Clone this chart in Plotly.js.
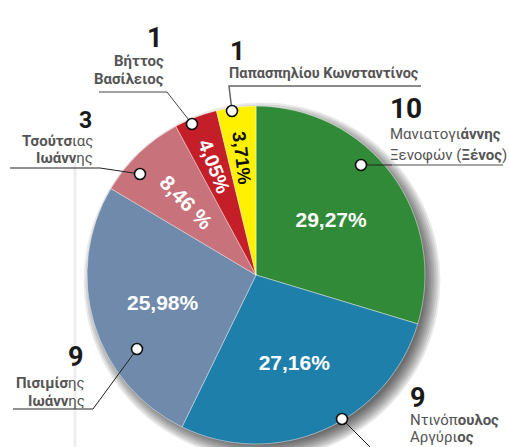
<!DOCTYPE html>
<html>
<head>
<meta charset="utf-8">
<script src="https://cdn.plot.ly/plotly-3.0.1.min.js"></script>
<style>html,body{margin:0;padding:0;background:#fff;}#chart{width:509px;height:447px;}</style>
</head>
<body>
<div id="chart"></div>
<script>
// ---- data ----
const candidates = ["Μανιατογιάννης Ξενοφών (Ξένος)", "Ντινόπουλος Αργύριος", "Πισιμίσης Ιωάννης", "Τσούτσιας Ιωάννης", "Βήττος Βασίλειος", "Παπασπηλίου Κωνσταντίνος"];
const percents = [29.27, 27.16, 25.98, 8.46, 4.05, 3.71];
const seats = [10, 9, 9, 3, 1, 1];
const pctLabels = ["29,27%", "27,16%", "25,98%", "8,46 %", "4,05%", "3,71%"];
const sliceColors = ["#318a37", "#1f7fab", "#6f8aab", "#c8737b", "#c41f28", "#fff100"];
const pctTextColors = ["#ffffff", "#ffffff", "#ffffff", "#ffffff", "#ffffff", "#111111"];
const radialSlices = [false, false, false, true, true, true];

const W = 509, H = 447;
const px = x => x / W, py = y => 1 - y / H;
const cx = 256, cy = 275, R = 169, R2 = 146;
const domainOf = r => ({x: [px(cx - r), px(cx + r)], y: [py(cy + r), py(cy - r)]});

const base = {
  type: 'pie', values: percents, labels: candidates, sort: false,
  direction: 'clockwise', rotation: 0,
  textposition: 'inside', texttemplate: '%{text}', hoverinfo: 'label+percent',
  showlegend: false
};
const mainTrace = Object.assign({}, base, {
  domain: domainOf(R),
  marker: {colors: sliceColors, line: {color: 'rgba(255,255,255,0.55)', width: 0.8}},
  text: pctLabels.map((t, i) => radialSlices[i] ? '' : t),
  insidetextorientation: 'horizontal',
  insidetextfont: {family: 'Liberation Sans, Arial, sans-serif', size: 21, color: pctTextColors, weight: 'bold'}
});
const radialTrace = Object.assign({}, base, {
  domain: domainOf(R2),
  marker: {colors: sliceColors.map(() => 'rgba(0,0,0,0)'), line: {width: 0}},
  text: pctLabels.map((t, i) => radialSlices[i] ? t : ''),
  insidetextorientation: 'radial', hoverinfo: 'skip',
  insidetextfont: {family: 'Liberation Sans, Arial, sans-serif', size: 21, color: pctTextColors, weight: 'bold'}
});

// ---- callout layout ----
const shapes = [];
// soft shadow
for (let i = 0; i < 9; i++) {
  const r = 164 + i * 1.8, sx = cx + 6, sy = cy + 6;
  shapes.push({type: 'circle', layer: 'below', xref: 'paper', yref: 'paper',
    x0: px(sx - r), x1: px(sx + r), y0: py(sy + r), y1: py(sy - r),
    fillcolor: 'rgba(0,0,0,0.085)', line: {width: 0}});
}
shapes.push({type: 'line', layer: 'below', xref: 'paper', yref: 'paper', x0: px(75), x1: px(75), y0: py(160), y1: py(447), line: {color: '#eeeeee', width: 3}});

function path(pts, color, width) {
  const d = pts.map((p, i) => (i ? 'L' : 'M') + px(p[0]).toFixed(5) + ',' + py(p[1]).toFixed(5)).join(' ');
  shapes.push({type: 'path', xref: 'paper', yref: 'paper', path: d, line: {color: color, width: width}});
}
function dot(x, y) {
  const r = 5.5;
  shapes.push({type: 'circle', xref: 'paper', yref: 'paper', x0: px(x - r), x1: px(x + r), y0: py(y + r), y1: py(y - r),
    fillcolor: '#ffffff', line: {color: '#111111', width: 1.6}});
}
// leader lines
path([[361, 165], [392, 165]], '#222', 1);
path([[392, 165], [503, 165]], '#888', 1.5);
path([[232, 111], [229, 86], [421, 86]], '#666', 1.5);
path([[192, 124], [167, 92], [99, 92]], '#444', 1);
path([[140, 174], [100, 168], [10, 168]], '#222', 1);
path([[137, 349], [93, 409], [13, 409]], '#222', 1);
path([[342, 419], [372, 449]], '#222', 1);
[[361, 165], [232, 111], [192, 124], [140, 174], [137, 349], [342, 419]].forEach(p => dot(p[0], p[1]));

const F = 'Roboto, Liberation Sans, sans-serif';
const annotations = [];
function ann(text, x, y, xanchor, size, color) {
  annotations.push({text: text, x: px(x), y: py(y), xref: 'paper', yref: 'paper', xanchor: xanchor, yanchor: 'middle',
    showarrow: false, font: {family: F, size: size, color: color}, borderpad: 0});
}
const numColor = '#1a1a1a', nameColor = '#555555';
// 10 seats – green
ann('<b>' + seats[0] + '</b>', 389, 108, 'left', 28, numColor);
ann('Μανιατογι<b>άννης</b>', 389, 134, 'left', 15, nameColor);
ann('Ξενοφών (<b>Ξένος</b>)', 389, 155, 'left', 15, nameColor);
// 9 seats – blue
ann('<b>' + seats[1] + '</b>', 409, 398, 'left', 27, numColor);
ann('Ντινόπ<b>ουλος</b>', 409, 420, 'left', 15, nameColor);
ann('Αργύρι<b>ος</b>', 409, 437, 'left', 15, nameColor);
// 9 seats – slate
ann('<b>' + seats[2] + '</b>', 76, 357, 'center', 27, numColor);
ann('<b>Πισιμίσ</b>ης', 86, 383, 'right', 15, nameColor);
ann('<b>Ιωάνν</b>ης', 86, 401, 'right', 15, nameColor);
// 3 seats – rose
ann('<b>' + seats[3] + '</b>', 85, 120, 'center', 23, numColor);
ann('<b>Τσούτσ</b>ιας', 94, 141, 'right', 15, nameColor);
ann('<b>Ιωάνν</b>ης', 94, 158, 'right', 15, nameColor);
// 1 seat – red
ann('<b>' + seats[4] + '</b>', 155, 38, 'center', 27, numColor);
ann('<b>Βήττος</b>', 165, 61, 'right', 15, nameColor);
ann('<b>Βασίλειος</b>', 165, 79, 'right', 15, nameColor);
// 1 seat – yellow
ann('<b>' + seats[5] + '</b>', 237, 51, 'center', 26, numColor);
ann('<b>Παπασπηλίου Κωνσταντίνος</b>', 228, 73, 'left', 14.5, nameColor);

Plotly.newPlot('chart', [mainTrace, radialTrace], {
  width: W, height: H, margin: {l: 0, r: 0, t: 0, b: 0},
  paper_bgcolor: '#ffffff', shapes: shapes, annotations: annotations, showlegend: false
}, {displayModeBar: false, staticPlot: true});
</script>
</body>
</html>
